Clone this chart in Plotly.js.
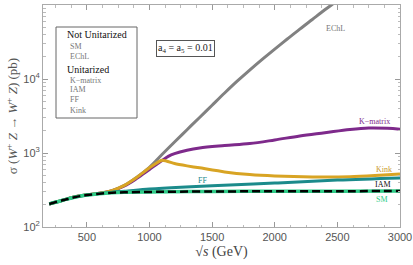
<!DOCTYPE html>
<html><head><meta charset="utf-8">
<script src="https://cdn.plot.ly/plotly-3.0.1.min.js"></script>
<style>html,body{margin:0;padding:0;background:#fff}#c{width:413px;height:265px}</style>
</head><body><div id="c"></div>
<script>
// sqrt(s) in GeV
const sSM   = [200, 300, 400, 500, 600, 700, 800, 1000, 1500, 2000, 2500, 3000];
const ySM   = [205, 228, 252, 270, 282, 290, 294, 298, 302, 304, 305, 306];
const yIAM  = [205, 228, 252, 270, 282, 290, 294, 298, 302, 304, 305, 306];
const sFF   = [200, 300, 400, 500, 600, 700, 800, 1000, 1250, 1500, 2000, 2500, 3000];
const yFF   = [205, 228, 252, 270, 284, 296, 305, 326, 345, 360, 392, 430, 460];
const sEChL = [200, 300, 400, 500, 600, 700, 800, 900, 1000, 1100, 1200, 1300, 1400, 1500, 1600, 1700, 1800, 1900, 2000, 2100, 2200, 2300, 2400, 2500, 2600];
const yEChL = [205, 228, 255, 272, 286, 310, 365, 470, 640, 955, 1410, 2065, 3020, 4420, 6460, 9330, 13200, 18400, 25400, 34700, 47300, 63800, 86100, 114800, 155000];
const sKM   = [200, 300, 400, 500, 600, 700, 800, 900, 1000, 1100, 1150, 1200, 1300, 1400, 1600, 1800, 2000, 2200, 2400, 2600, 2750, 2900, 3000];
const yKM   = [205, 228, 255, 272, 285, 308, 358, 455, 600, 790, 900, 980, 1090, 1170, 1260, 1340, 1500, 1700, 1880, 2080, 2180, 2160, 2100];
const sKink = [200, 300, 400, 500, 600, 700, 800, 900, 1000, 1100, 1200, 1300, 1400, 1600, 1800, 2000, 2300, 2600, 2800, 3000];
const yKink = [205, 228, 255, 272, 286, 310, 365, 470, 630, 800, 720, 670, 630, 555, 512, 490, 475, 478, 495, 520];

const xTicks = [500, 1000, 1500, 2000, 2500, 3000];
const yTicks = [100, 1000, 10000, 100000];
const yTickText = ['10<sup>2</sup>', '10<sup>3</sup>', '10<sup>4</sup>', '10<sup>5</sup>'];

const yMinor = [];
for (let e = 100; e < 100000; e *= 10) for (let k = 2; k <= 9; k++) yMinor.push(k * e);

const C = {SM: '#2fcc88', IAM: '#000000', FF: '#1b8b8b', EChL: '#818181', KM: '#7e2a8b', Kink: '#d8a424'};
const serif = 'Liberation Serif, DejaVu Serif, serif';
const sans = 'Liberation Sans, Arial, sans-serif';

const traces = [
  {x: sEChL, y: yEChL, mode: 'lines', line: {color: C.EChL, width: 3, shape: 'spline'}},
  {x: sKM, y: yKM, mode: 'lines', line: {color: C.KM, width: 3, shape: 'spline'}},
  {x: sKink, y: yKink, mode: 'lines', line: {color: C.Kink, width: 3, shape: 'spline', smoothing: 0.6}},
  {x: sFF, y: yFF, mode: 'lines', line: {color: C.FF, width: 3, shape: 'spline'}},
  {x: sSM, y: ySM, mode: 'lines', line: {color: C.SM, width: 3.5, shape: 'spline'}},
  {x: sSM, y: yIAM, mode: 'lines', line: {color: C.IAM, width: 2.5, dash: '8px,4px', shape: 'spline'}},
];

function lab(x, y, text, color) {
  return {x: x, y: Math.log10(y), xref: 'x', yref: 'y', text: text, showarrow: false,
          font: {family: serif, size: 8, color: color}};
}
const L = 43, R = 400, T = 5, B = 227;
const px = v => (v - L) / (R - L);
const py = v => (B - v) / (B - T);
const legendItems = [
  ['Not Unitarized', 35, true], ['SM', 47, false], ['EChL', 56, false],
  ['Unitarized', 69, true], ['K\u2212matrix', 80, false], ['IAM', 89, false], ['FF', 99, false], ['Kink', 110, false]
];
const annotations = [
  lab(2489, 48000, 'EChL', '#777'),
  lab(2800, 2700, 'K\u2212matrix', C.KM),
  lab(2872, 590, 'Kink', '#c9992a'),
  lab(2864, 370, 'IAM', '#111'),
  lab(2856, 232, 'SM', C.SM),
  lab(1427, 431, 'FF', C.FF),
  {xref: 'paper', yref: 'paper', x: px(185.5), y: py(40), text: 'a<sub>4</sub> = a<sub>5</sub> = 0.01',
   showarrow: false, font: {family: serif, size: 10, color: '#222'}, bordercolor: '#555', borderwidth: 1, borderpad: 1, bgcolor: '#fff'}
];
legendItems.forEach(([t, y, h]) => {
  annotations.push({xref: 'paper', yref: 'paper', x: px(h ? 65 : 68), y: py(y), xanchor: 'left', yanchor: 'middle',
    text: t, showarrow: false, font: {family: serif, size: h ? 10 : 8, color: h ? '#111' : '#777'}});
});

const layout = {
  width: 413, height: 265,
  margin: {l: L, r: 413 - R, t: T, b: 265 - B},
  paper_bgcolor: '#fff', plot_bgcolor: '#fff',
  showlegend: false,
  xaxis: {range: [150, 3000], tickvals: xTicks, ticks: 'inside', ticklen: 5, tickcolor: '#999',
    showline: true, linecolor: '#aaa', mirror: 'allticks', showgrid: false, zeroline: false,
    tickfont: {family: sans, size: 11, color: '#555'},
    minor: {dtick: 125, tick0: 0, ticks: 'inside', ticklen: 2.5, tickcolor: '#bbb', showgrid: false},
    title: {text: '\u221A<i>s</i> (GeV)', font: {family: serif, size: 14, color: '#444'}, standoff: 3}},
  yaxis: {type: 'log', range: [2, 5], tickvals: yTicks, ticktext: yTickText, ticks: 'inside', ticklen: 5, tickcolor: '#999',
    showline: true, linecolor: '#aaa', mirror: 'allticks', showgrid: false, zeroline: false,
    tickfont: {family: sans, size: 11, color: '#555'},
    minor: {tickmode: 'array', tickvals: yMinor, ticks: 'inside', ticklen: 2.5, tickcolor: '#bbb', showgrid: false},
    title: {text: '\u03C3 (<i>W</i><sup>+</sup> <i>Z</i> \u2192 <i>W</i><sup>+</sup> <i>Z</i>) (pb)', font: {family: serif, size: 13, color: '#555'}, standoff: 2}},
  shapes: [{type: 'rect', xref: 'paper', yref: 'paper', x0: px(56), x1: px(137), y0: py(118), y1: py(27),
    line: {color: '#666', width: 1}, fillcolor: 'rgba(255,255,255,1)', layer: 'below'}],
  annotations: annotations
};
Plotly.newPlot('c', traces, layout, {displayModeBar: false});
</script></body></html>
